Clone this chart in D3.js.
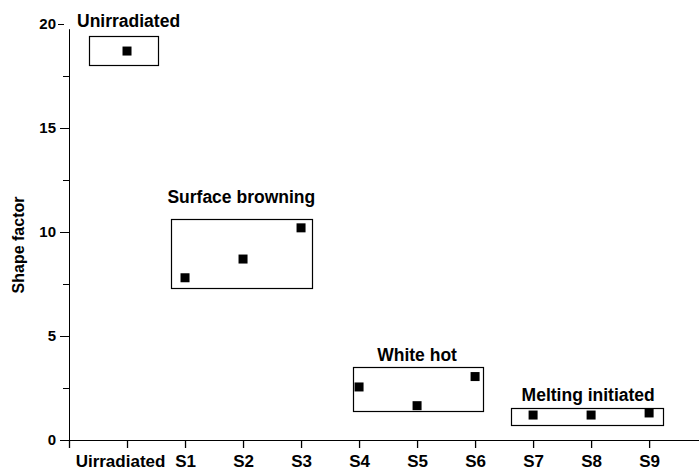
<!DOCTYPE html>
<html><head><meta charset="utf-8">
<script src="https://cdn.jsdelivr.net/npm/d3@7"></script>
<style>
html,body{margin:0;padding:0;background:#fff;}
text{font-family:"Liberation Sans",Arial,sans-serif;font-weight:bold;fill:#000;}
</style></head>
<body>
<svg id="c" width="699" height="472"></svg>
<script>
const categories = ["Uirradiated","S1","S2","S3","S4","S5","S6","S7","S8","S9"];
const values = [18.7, 7.8, 8.7, 10.2, 2.55, 1.65, 3.05, 1.2, 1.2, 1.3];
const yTicks = [0,5,10,15,20];
const yMinorTicks = [2.5,7.5,12.5,17.5];
const groups = [
  {label:"Unirradiated", x0:0.345, x1:1.53, y0:18.0, y1:19.4, labelX:1.0, labelY:19.85, anchor:"start", lx:77},
  {label:"Surface browning", x0:1.76, x1:4.19, y0:7.31, y1:10.63, labelX:2.97, labelY:11.39},
  {label:"White hot", x0:4.9, x1:7.14, y0:1.39, y1:3.51, labelX:6.0, labelY:3.8},
  {label:"Melting initiated", x0:7.62, x1:10.24, y0:0.72, y1:1.54, labelX:8.95, labelY:1.875}
];

const svg = d3.select("#c");
const x = d3.scaleLinear().domain([0, 10.86]).range([69, 699]);
const y = d3.scaleLinear().domain([0, 20]).range([440, 24]);

// axes
const xAxis = d3.axisBottom(x).tickValues(d3.range(0, 11)).tickSize(8)
  .tickFormat(i => i >= 1 ? categories[i-1] : "");
const gx = svg.append("g").attr("transform","translate(0,440)").call(xAxis);
gx.select(".domain").attr("d", `M${x(0)},0.5H699`).attr("stroke","#000");
gx.selectAll(".tick line").attr("stroke","#000").attr("stroke-width",1.3);
gx.selectAll(".tick text").attr("font-size","17px").attr("y",27).attr("dy",0)
  .attr("dx", (d) => d===1 ? -7 : 0);

const yAxis = d3.axisLeft(y).tickValues(yTicks).tickSize(9).tickPadding(4);
const gy = svg.append("g").attr("transform","translate(69,0)").call(yAxis);
gy.select(".domain").attr("d", `M0.5,${y(0)+8}V${y(19.75)}`).attr("stroke","#000");
gy.selectAll(".tick line").attr("stroke","#000");
gy.selectAll(".tick text").attr("font-size","15px");
gy.selectAll(".tick").filter(d=>d===20).select("line").attr("x1",-5).attr("x2",-11);

gy.selectAll(".minor").data(yMinorTicks).enter().append("line")
  .attr("x1",-6).attr("x2",0).attr("y1",d=>Math.round(y(d))+0.5).attr("y2",d=>Math.round(y(d))+0.5)
  .attr("stroke","#000");

// axis title
svg.append("text").attr("transform","translate(24,245) rotate(-90)")
  .attr("text-anchor","middle").attr("font-size","16px").text("Shape factor");

// group boxes
const gg = svg.append("g");
gg.selectAll("rect").data(groups).enter().append("rect")
  .attr("x", d=>Math.round(x(d.x0))+0.5).attr("y", d=>Math.round(y(d.y1))+0.5)
  .attr("width", d=>Math.round(x(d.x1)-x(d.x0))).attr("height", d=>Math.round(y(d.y0)-y(d.y1)))
  .attr("fill","none").attr("stroke","#000").attr("stroke-width",1.2);
gg.selectAll("text").data(groups).enter().append("text")
  .attr("x", d=> d.anchor==="start" ? d.lx : x(d.labelX))
  .attr("y", d=>y(d.labelY))
  .attr("text-anchor", d=>d.anchor||"middle")
  .attr("font-size","17.5px").text(d=>d.label);

// points
svg.append("g").selectAll("rect").data(values).enter().append("rect")
  .attr("x",(d,i)=>x(i+1)-4.5).attr("y",d=>y(d)-4.5)
  .attr("width",9).attr("height",9).attr("fill","#000");
</script>
</body></html>
